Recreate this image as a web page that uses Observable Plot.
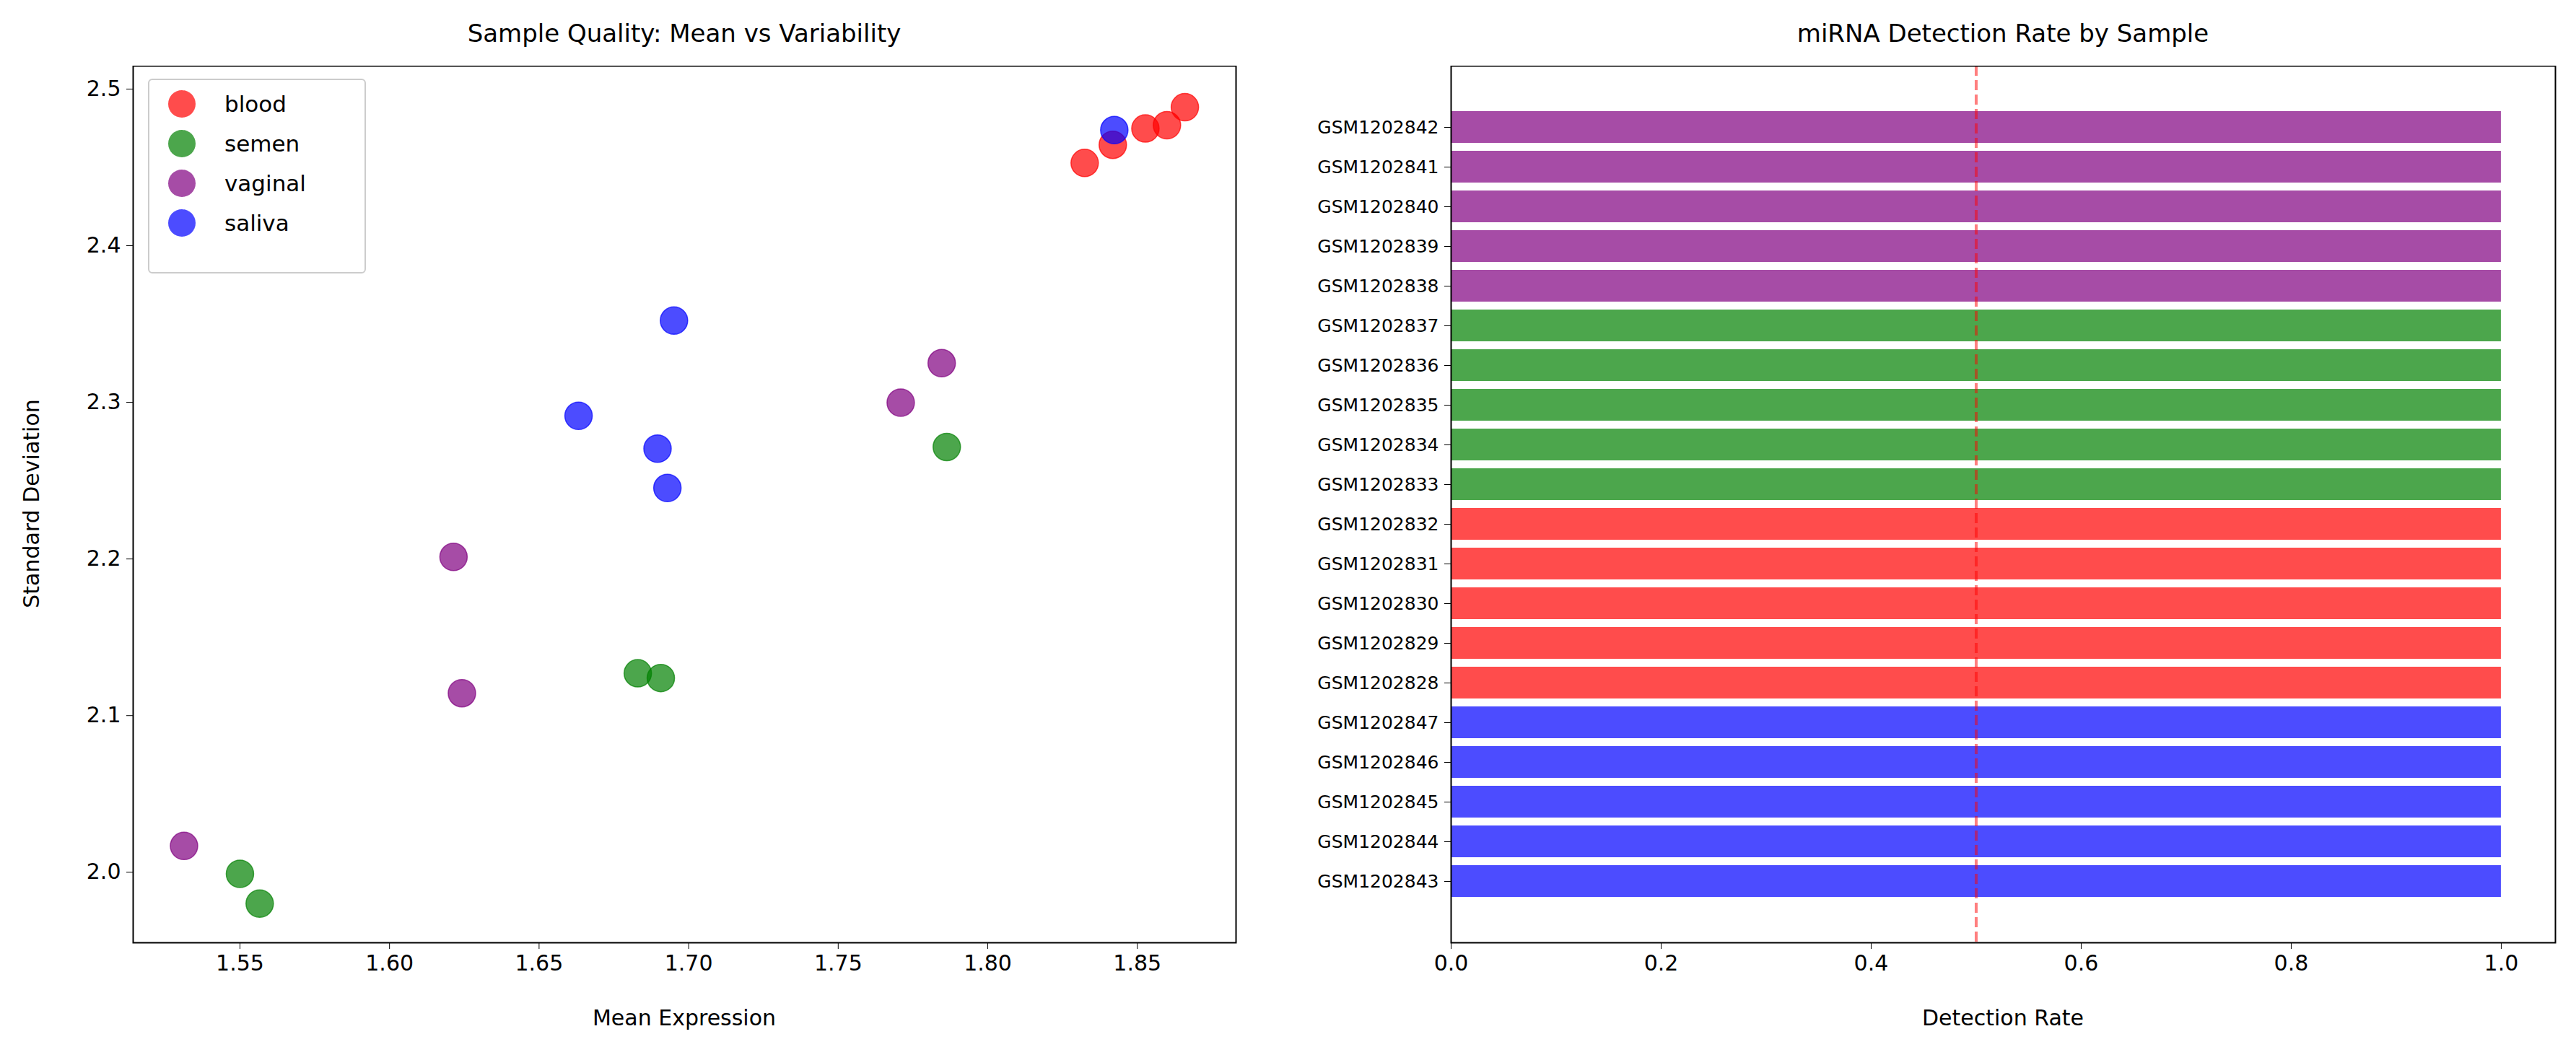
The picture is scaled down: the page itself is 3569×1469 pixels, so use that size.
<!DOCTYPE html>
<html><head><meta charset="utf-8">
<script src="https://cdn.jsdelivr.net/npm/d3@7"></script>
<script src="https://cdn.jsdelivr.net/npm/@observablehq/plot@0.6"></script>
<style>
body{margin:0;background:#fff;font-family:"DejaVu Sans",sans-serif;}
#wrap{position:relative;width:3569px;height:1469px;}
.t{position:absolute;font-size:34px;white-space:nowrap;transform:translateX(-50%);}
.lab{position:absolute;font-size:30px;white-space:nowrap;}
#legend{position:absolute;left:205px;top:109px;width:298px;height:266px;border:2px solid #ccc;border-radius:6px;background:#fff;font-size:31px;}
#legend div{position:absolute;left:26px;display:flex;align-items:center;}
#legend span.m{display:inline-block;width:38px;height:38px;border-radius:50%;margin-right:40px;}
</style></head>
<body><div id="wrap"></div>
<script>
// scatter: mean vs sd per fluid
const blood = {mean:[1.8324,1.8418,1.8527,1.8599,1.8659], sd:[2.4528,2.4644,2.4748,2.4769,2.4884]};
const semen = {mean:[1.5500,1.5566,1.6830,1.6907,1.7863], sd:[1.9990,1.9800,2.1270,2.1240,2.2715]};
const vaginal = {mean:[1.5313,1.6242,1.6214,1.7709,1.7846], sd:[2.0168,2.1143,2.2013,2.2998,2.3250]};
const saliva = {mean:[1.8423,1.6951,1.6632,1.6896,1.6929], sd:[2.4738,2.3522,2.2914,2.2704,2.2453]};

// detection rate, top to bottom
const samples = ["GSM1202842","GSM1202841","GSM1202840","GSM1202839","GSM1202838",
  "GSM1202837","GSM1202836","GSM1202835","GSM1202834","GSM1202833",
  "GSM1202832","GSM1202831","GSM1202830","GSM1202829","GSM1202828",
  "GSM1202847","GSM1202846","GSM1202845","GSM1202844","GSM1202843"];
const sampleFluid = [...Array(5).fill("vaginal"),...Array(5).fill("semen"),...Array(5).fill("blood"),...Array(5).fill("saliva")];
const detection = Array(20).fill(1.0);

const xTicksL = [1.55,1.6,1.65,1.7,1.75,1.8,1.85];
const yTicksL = [2.0,2.1,2.2,2.3,2.4,2.5];
const xTicksR = [0,0.2,0.4,0.6,0.8,1.0];

const colors = {blood:"red", semen:"green", vaginal:"purple", saliva:"blue"};
const groups = {blood, semen, vaginal, saliva};

const pts = [];
for (const [k,g] of Object.entries(groups)) g.mean.forEach((m,i)=>pts.push({fluid:k,mean:m,sd:g.sd[i]}));
const bars = samples.map((s,i)=>({sample:s,fluid:sampleFluid[i],rate:detection[i]}));

const wrap = document.getElementById("wrap");
const style = {fontSize:"30px", fontFamily:"DejaVu Sans, sans-serif", background:"transparent"};

const left = Plot.plot({
  width:1780, height:1378, marginLeft:184, marginRight:68, marginTop:0, marginBottom:163,
  style,
  x:{domain:[1.5143,1.883]},
  y:{domain:[1.955,2.5147]},
  marks:[
    Plot.axisX({ticks:xTicksL, tickFormat:d3.format(".2f"), label:null, tickSize:9, tickPadding:8, fontSize:30}),
    Plot.axisY({ticks:yTicksL, tickFormat:d3.format(".1f"), label:null, tickSize:9, tickPadding:8, fontSize:30}),
    Plot.dot(pts,{x:"mean",y:"sd",r:19,fill:d=>colors[d.fluid],fillOpacity:0.7,stroke:d=>colors[d.fluid],strokeOpacity:0.7}),
    Plot.frame({stroke:"black",strokeWidth:2})
  ]
});
left.style.position="absolute"; left.style.left="0px"; left.style.top="91px";
wrap.append(left);

const right = Plot.plot({
  width:1789, height:1378, marginLeft:230, marginRight:29, marginTop:0, marginBottom:163,
  style,
  x:{domain:[0,1.0516]},
  y:{domain:samples, paddingInner:0.2, paddingOuter:0.96},
  marks:[
    Plot.axisX({ticks:xTicksR, tickFormat:d3.format(".1f"), label:null, tickSize:9, tickPadding:8, fontSize:30}),
    Plot.axisY({label:null, tickSize:9, tickPadding:8, fontSize:25}),
    Plot.barX(bars,{x:"rate",y:"sample",fill:d=>colors[d.fluid],fillOpacity:0.7}),
    Plot.ruleX([0.5],{stroke:"red",strokeOpacity:0.5,strokeWidth:4,strokeDasharray:"14,6"}),
    Plot.frame({stroke:"black",strokeWidth:2})
  ]
});
right.style.position="absolute"; right.style.left="1780px"; right.style.top="91px";
wrap.append(right);

function txt(cls, s, x, y, extra){const d=document.createElement("div");d.className=cls;d.textContent=s;d.style.left=x+"px";d.style.top=y+"px";if(extra)Object.assign(d.style,extra);wrap.append(d);}
txt("t","Sample Quality: Mean vs Variability",948,26);
txt("t","miRNA Detection Rate by Sample",2775,26);
txt("lab","Mean Expression",948,1393,{transform:"translateX(-50%)"});
txt("lab","Detection Rate",2775,1393,{transform:"translateX(-50%)"});
txt("lab","Standard Deviation",43,698,{transform:"translate(-50%,-50%) rotate(-90deg)"});

const lg=document.createElement("div");lg.id="legend";
Object.keys(colors).forEach((k,i)=>{const r=document.createElement("div");r.style.top=(14+i*55)+"px";
  r.innerHTML=`<span class="m" style="background:${colors[k]};opacity:0.7"></span>${k}`;lg.append(r);});
wrap.append(lg);
</script></body></html>
